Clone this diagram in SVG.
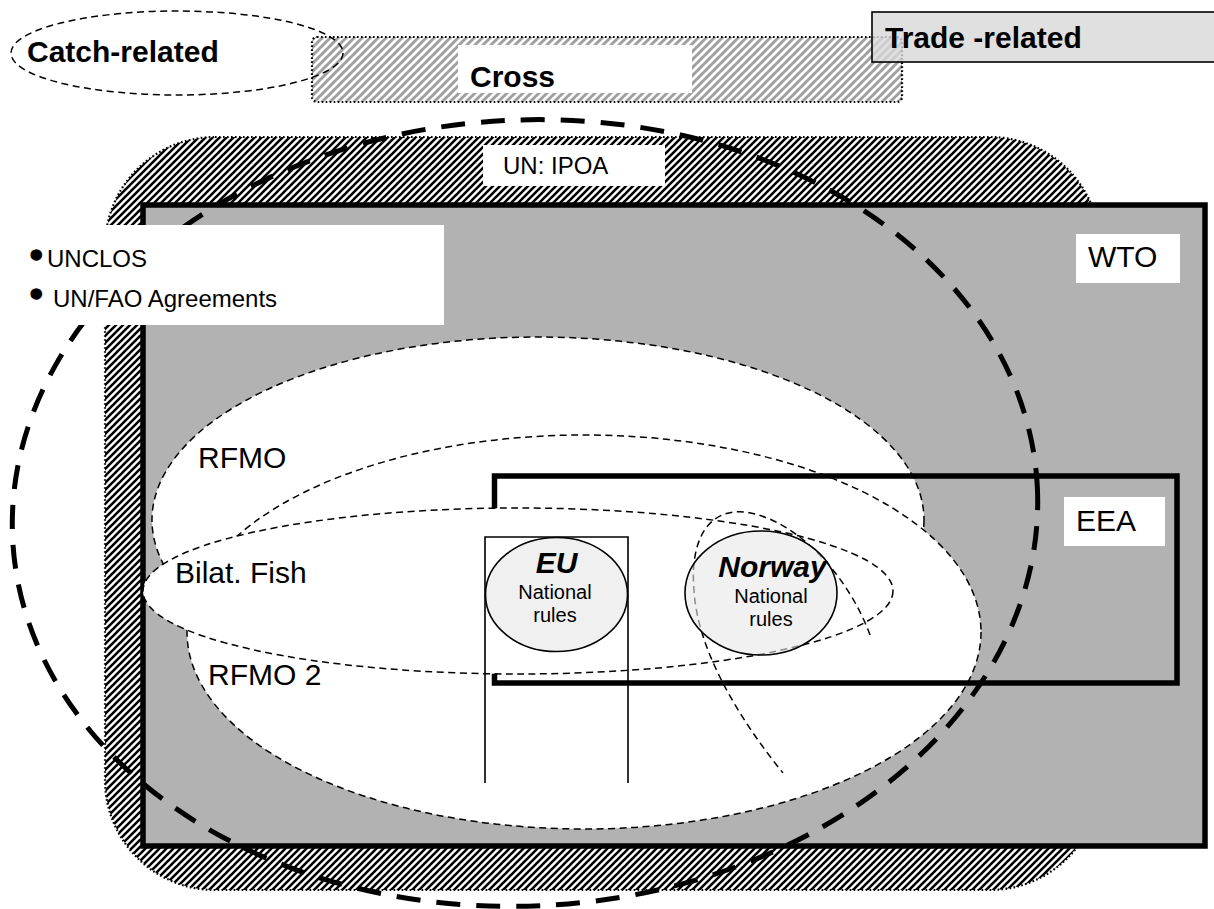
<svg xmlns="http://www.w3.org/2000/svg" width="1214" height="909" viewBox="0 0 1214 909">
<defs>
<pattern id="hatchBW" patternUnits="userSpaceOnUse" width="7" height="7">
<rect width="7" height="7" fill="#fff"/>
<path d="M-1,8 L8,-1 M-1,1 L1,-1 M6,8 L8,6" stroke="#000" stroke-width="2.6"/>
</pattern>
<pattern id="hatchGray" patternUnits="userSpaceOnUse" width="8" height="8">
<rect width="8" height="8" fill="#fff"/>
<path d="M-1,9 L9,-1 M-1,1 L1,-1 M7,9 L9,7" stroke="#a0a0a0" stroke-width="3"/>
</pattern>
</defs>
<style>
text{font-family:"Liberation Sans",Arial,Helvetica,sans-serif;fill:#000}
.b{font-weight:bold}
.bi{font-weight:bold;font-style:italic}
.bul{stroke:#000;stroke-width:3.5;stroke-linejoin:round}
.thin{fill:none;stroke:#000;stroke-width:1.5;stroke-dasharray:7 4.5}
.wfill{fill:#fff;stroke:#000;stroke-width:1.5;stroke-dasharray:7 4.5}
.dots{stroke:#000;stroke-width:2.2;stroke-dasharray:1.6 2.4}
.lbl{fill:#fff;stroke:none}
.nat{fill:#e8e8e8;fill-opacity:0.6;stroke:#000;stroke-width:1.6}
</style>
<rect width="1214" height="909" fill="#fff"/>

<g id="cross">
<rect x="312" y="37" width="590" height="65" rx="5" fill="url(#hatchGray)" class="dots"/>
<rect x="458" y="45" width="234" height="48" class="lbl"/>
<text x="470" y="87" font-size="30" class="b">Cross</text>
</g>

<g id="catch-related">
<ellipse cx="177" cy="53" rx="166" ry="42" class="thin"/>
<text x="27" y="62" font-size="30" class="b">Catch-related</text>
</g>

<g id="trade-related">
<rect x="872" y="12" width="360" height="50" fill="#d8d8d8" fill-opacity="0.8" stroke="#000" stroke-width="1.6"/>
<text x="885" y="48" font-size="30" class="b">Trade -related</text>
</g>

<g id="un-ipoa">
<rect x="105" y="137" width="995" height="753" rx="110" ry="110" fill="url(#hatchBW)" class="dots"/>
<rect x="483" y="145" width="182" height="41" class="lbl"/>
<text x="503" y="174" font-size="24">UN: IPOA</text>
</g>

<g id="wto">
<rect x="143" y="205" width="1062" height="641" fill="#b2b2b2" stroke="#000" stroke-width="5.5"/>
<rect x="1076" y="234" width="104" height="49" class="lbl"/>
<text x="1088" y="267" font-size="30">WTO</text>
</g>

<g id="connectors">
<ellipse cx="525" cy="513" rx="513" ry="393" transform="rotate(-3 525 513)" fill="none" stroke="#000" stroke-width="5" stroke-dasharray="24 16"/>
</g>

<g id="unclos">
<rect x="20" y="225" width="424" height="100" class="lbl"/>
<text x="31" y="265" font-size="30" class="bul">•</text>
<text x="47" y="267" font-size="24">UNCLOS</text>
<text x="31" y="304" font-size="30" class="bul">•</text>
<text x="53" y="307" font-size="24">UN/FAO Agreements</text>
</g>

<g id="rfmo">
<ellipse cx="538" cy="520" rx="386" ry="183" class="wfill"/>
</g>

<g id="rfmo2">
<ellipse cx="584" cy="632" rx="397" ry="197" class="wfill"/>
</g>

<g id="eea">
<rect x="494.5" y="476" width="682.5" height="207" fill="none" stroke="#000" stroke-width="5.5"/>
<rect x="1064" y="497" width="101" height="49" class="lbl"/>
<text x="1076" y="531" font-size="30">EEA</text>
</g>

<g id="bilat-fish">
<ellipse cx="518" cy="591" rx="375" ry="83" class="wfill"/>
</g>

<g id="labels">
<text x="198" y="468" font-size="30">RFMO</text>
<text x="175" y="583" font-size="30">Bilat. Fish</text>
<text x="208" y="685" font-size="30">RFMO 2</text>
</g>

<g id="eu">
<path d="M485,783 V537 H628 V783" fill="none" stroke="#000" stroke-width="1.6"/>
<ellipse cx="556.5" cy="594.5" rx="71" ry="57" fill="#f0f0f0" stroke="#000" stroke-width="1.6"/>
<text x="556.5" y="573" font-size="30" class="bi" text-anchor="middle">EU</text>
<text x="555" y="599" font-size="20" text-anchor="middle">National</text>
<text x="555" y="622" font-size="20" text-anchor="middle">rules</text>
</g>

<g id="arc">
<path d="M870,635 C850,580 800,520 745,512 C705,508 690,545 694,590 C697,650 740,720 783,773" class="thin"/>
</g>

<g id="norway">
<ellipse cx="761" cy="593" rx="76" ry="62" class="nat"/>
<text x="772.5" y="577" font-size="30" class="bi" text-anchor="middle">Norway</text>
<text x="771" y="603" font-size="20" text-anchor="middle">National</text>
<text x="771" y="626" font-size="20" text-anchor="middle">rules</text>
</g>
</svg>
